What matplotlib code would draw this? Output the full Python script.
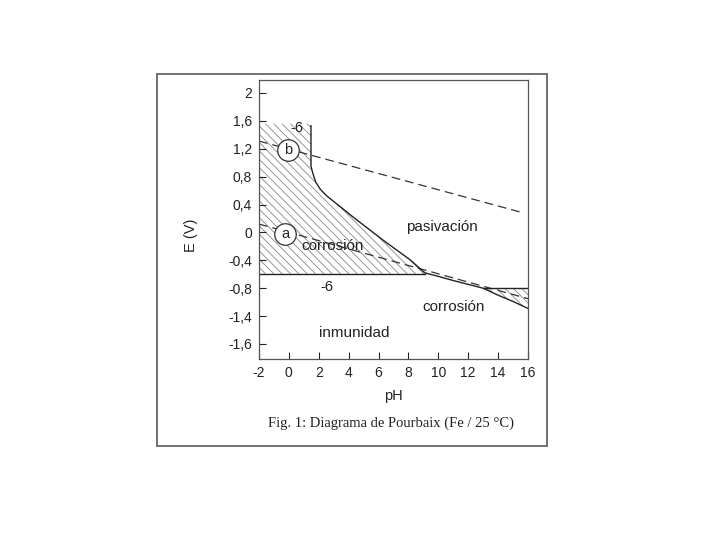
import matplotlib
matplotlib.use('Agg')
import matplotlib.pyplot as plt
from matplotlib.patches import Rectangle

plt.rcParams['font.family'] = ['Liberation Sans', 'DejaVu Sans']
plt.rcParams['hatch.linewidth'] = 0.6

# corrosion region (left)
corr_ph = [-2, 1.48, 1.48, 1.6, 1.8, 2.1, 2.5, 4.3, 6.3, 8.1, 9.1, -2]
corr_e = [1.56, 1.56, 0.95, 0.85, 0.72, 0.62, 0.53, 0.22, -0.11, -0.39, -0.595, -0.595]

# corrosion region (right, alkaline)
corr2_ph = [13.0, 16, 16, 15, 14]
corr2_e = [-0.80, -0.80, -1.09, -0.99, -0.90]

# solid boundary line
bound_ph = [1.48, 1.48, 1.6, 1.8, 2.1, 2.5, 4.3, 6.3, 8.1, 9.1, 10, 11, 12, 13, 14, 15, 16]
bound_e = [1.53, 0.95, 0.85, 0.72, 0.62, 0.53, 0.22, -0.11, -0.39, -0.58,
           -0.63, -0.69, -0.745, -0.80, -0.90, -0.99, -1.09]

# horizontal limits (10^-6)
h1_ph = [-2, 9.1]
h1_e = [-0.595, -0.595]
h2_ph = [13.0, 16]
h2_e = [-0.80, -0.80]

# water stability lines (dashed)
o2_ph = [-2, 15.7]
o2_e = [1.31, 0.28]
h2line_ph = [-2, 16]
h2line_e = [0.12, -0.95]

yticks = [2, 1.6, 1.2, 0.8, 0.4, 0, -0.4, -0.8, -1.2, -1.6]
ylabels = ['2', '1,6', '1,2', '0,8', '0,4', '0', '-0,4', '-0,8', '-1,4', '-1,6']
xticks = [-2, 0, 2, 4, 6, 8, 10, 12, 14, 16]

fig = plt.figure(figsize=(7.2, 5.4), dpi=100)
fig.patches.append(Rectangle((0.218, 0.174), 0.5417, 0.689, transform=fig.transFigure,
                             fill=False, edgecolor='#666666', linewidth=1.3))

ax = fig.add_axes([0.3597, 0.3352, 0.3736, 0.5167])

ax.fill(corr_ph, corr_e, facecolor='none', edgecolor='#888888', hatch='\\\\\\\\', linewidth=0)
ax.fill(corr2_ph, corr2_e, facecolor='none', edgecolor='#888888', hatch='\\\\\\\\', linewidth=0)

ax.plot(o2_ph, o2_e, color='#333333', lw=0.9, dashes=(7, 4))
ax.plot(h2line_ph, h2line_e, color='#333333', lw=0.9, dashes=(7, 4))
ax.plot(bound_ph, bound_e, color='#222222', lw=1.0)
ax.plot(h1_ph, h1_e, color='#222222', lw=1.0)
ax.plot(h2_ph, h2_e, color='#222222', lw=1.0)

# circled labels
for x, y, s in [(-0.06, 1.18, 'b'), (-0.26, -0.02, 'a')]:
    ax.plot(x, y, 'o', ms=15.5, mfc='white', mec='#333333', mew=0.9)
    ax.text(x, y, s, ha='center', va='center', fontsize=10.5, color='#222222')

ax.text(0.54, 1.5, '-6', ha='center', va='center', fontsize=10.5, color='#222222')
ax.text(2.55, -0.78, '-6', ha='center', va='center', fontsize=10.5, color='#222222')
ax.text(2.95, -0.2, 'corrosión', ha='center', va='center', fontsize=11, color='#222222')
ax.text(10.25, 0.08, 'pasivación', ha='center', va='center', fontsize=11, color='#222222')
ax.text(11.05, -1.07, 'corrosión', ha='center', va='center', fontsize=11, color='#222222')
ax.text(4.4, -1.44, 'inmunidad', ha='center', va='center', fontsize=11, color='#222222')

ax.set_xlim(-2, 16)
ax.set_ylim(-1.815, 2.186)
ax.set_xticks(xticks)
ax.set_xticklabels([str(t) for t in xticks])
ax.set_yticks(yticks)
ax.set_yticklabels(ylabels)
ax.tick_params(direction='in', length=5, width=0.8, labelsize=10, colors='#222222', pad=5)
for sp in ax.spines.values():
    sp.set_color('#555555')
    sp.set_linewidth(0.9)

ax.set_xlabel('pH', fontsize=10.5, color='#222222')
ax.set_ylabel('E (V)', fontsize=10.5, color='#222222')
ax.xaxis.set_label_coords(0.498, -0.108)
ax.yaxis.set_label_coords(-0.227, 0.444)

fig.text(0.543, 0.2167, 'Fig. 1: Diagrama de Pourbaix (Fe / 25 °C)', ha='center', va='center',
         fontsize=10.5, family=['Liberation Serif', 'DejaVu Serif'], color='#222222')

fig.savefig('out.png', dpi=100)
